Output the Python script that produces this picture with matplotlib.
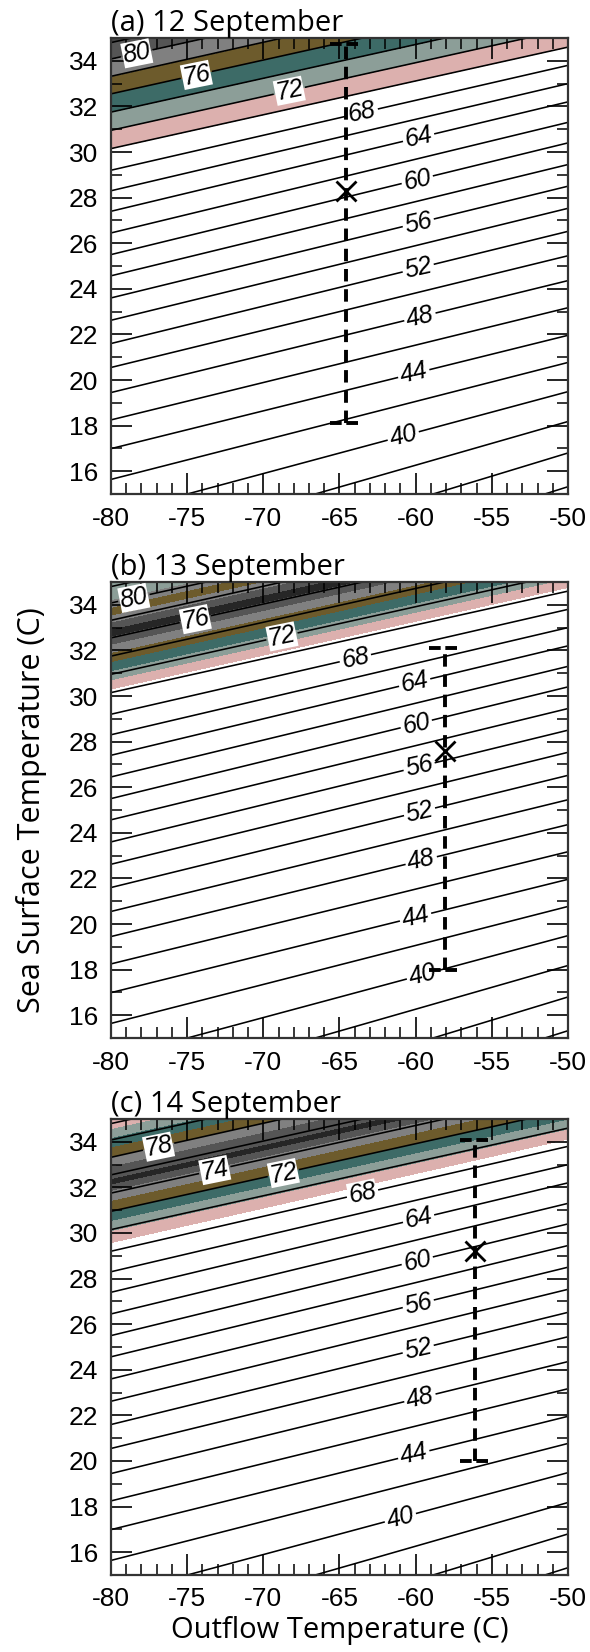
import numpy as np
import matplotlib
matplotlib.use("Agg")
import matplotlib.pyplot as plt
from matplotlib.ticker import MultipleLocator

# ---------------- data ----------------
# contour levels (m/s) and the SST (C) where each contour meets x=-80 and x=-50
line_levels = [30, 32, 34, 36, 38, 40, 42, 44, 46, 48, 50, 52, 54, 56, 58,
               60, 62, 64, 66, 68, 70, 72, 74, 76, 78, 80, 82, 84, 86]
sst_at_m80 = [5.6, 7.3, 9.0, 10.7, 12.43, 14.1, 15.64, 16.99, 18.25, 19.45,
              20.55, 21.6, 22.62, 23.6, 24.57, 25.5, 26.45, 27.4, 28.3, 29.2,
              30.15, 30.95, 31.75, 32.55, 33.32, 34.08, 34.8, 35.5, 36.2]
sst_at_m50 = [12.3, 13.8, 15.32, 16.8, 18.18, 19.49, 20.77, 21.96, 23.17, 24.36,
              25.45, 26.52, 27.53, 28.5, 29.45, 30.4, 31.3, 32.2, 33.0, 33.8,
              34.6, 35.4, 36.2, 37.0, 37.8, 38.5, 39.2, 39.9, 40.6]

panel_titles = ["(a) 12 September", "(b) 13 September", "(c) 14 September"]

# shaded bands (lower bound of each band in m/s) and their colours
PINK, GRGN, TEAL, OLIV = "#dcb0ae", "#8c9e98", "#3d6b67", "#6d5b2c"
GRAY, DGRY, BLCK = "#808080", "#555555", "#262626"
shade_bounds = [
    [70, 72, 74, 76, 78, 80, 82, 120],
    [70.4, 71.4, 72.4, 73.4, 74.4, 75.3, 76.2, 77.0, 77.8, 78.6, 79.5, 80.4, 120],
    [68.8, 69.9, 71.0, 72.1, 73.2, 74.3, 75.0, 75.6, 77.0, 78.1, 79.2, 80.3, 81.4, 120],
]
shade_colors = [
    [PINK, GRGN, TEAL, OLIV, GRAY, DGRY, "#444444"],
    [PINK, GRGN, TEAL, OLIV, GRAY, DGRY, BLCK, DGRY, GRAY, OLIV, GRAY, GRGN],
    [PINK, GRGN, TEAL, OLIV, GRAY, DGRY, BLCK, DGRY, GRAY, OLIV, TEAL, GRGN, PINK],
]

# observed range (dashed bar) and mean (X) for each day
bar_x = [-64.6, -58.1, -56.1]
bar_low = [18.1, 18.0, 20.0]
bar_high = [34.75, 32.1, 34.1]
bar_mark = [28.3, 27.6, 29.2]

# which contours carry a label, and where the labels sit (data coords)
label_sets = [
    [40, 44, 48, 52, 56, 60, 64, 68, 72, 76, 80],
    [40, 44, 48, 52, 56, 60, 64, 68, 72, 76, 80],
    [40, 44, 48, 52, 56, 60, 64, 68, 72, 74, 78],
]
label_spots = [
    [(-60.8, 17.5), (-60.1, 20.2), (-59.7, 22.7), (-59.8, 24.8), (-59.8, 26.8),
     (-59.9, 28.8), (-59.8, 30.6), (-63.5, 31.7), (-68.3, 32.7), (-74.4, 33.4),
     (-78.3, 34.3)],
    [(-59.6, 17.9), (-60.1, 20.6), (-59.7, 23.0), (-59.8, 25.1), (-59.8, 27.0),
     (-60.0, 28.9), (-60.1, 30.7), (-64.0, 31.8), (-68.8, 32.7), (-74.5, 33.5),
     (-78.5, 34.3)],
    [(-61.0, 17.5), (-60.1, 20.2), (-59.7, 22.7), (-59.8, 24.8), (-59.8, 26.8),
     (-59.9, 28.8), (-59.8, 30.6), (-63.5, 31.77), (-68.7, 32.68), (-73.2, 32.8),
     (-76.9, 33.86)],
]

# ---------------- build the field from the contour positions ----------------
xs = np.linspace(-80, -50, 241)
ys = np.linspace(14.0, 36.0, 881)
lv = np.array(line_levels, float)
sl = np.array(sst_at_m80)
sr = np.array(sst_at_m50)
V = np.empty((ys.size, xs.size))
for i, x in enumerate(xs):
    t = (x + 80.0) / 30.0
    V[:, i] = np.interp(ys, sl + (sr - sl) * t, lv)
X, Y = np.meshgrid(xs, ys)

# ---------------- figure ----------------
plt.rcParams["font.family"] = ["Liberation Sans", "DejaVu Sans"]
fig = plt.figure(figsize=(5.90, 16.52), dpi=100)
W, H = 590.0, 1652.0
left, right = 111, 568
tops = [38, 582, 1119]
ph = 456
TITLE_FONT = ["Open Sans", "DejaVu Sans"]

for k in range(3):
    top = tops[k]
    ax = fig.add_axes([left / W, 1 - (top + ph) / H, (right - left) / W, ph / H])
    ax.contourf(X, Y, V, levels=shade_bounds[k], colors=shade_colors[k])
    plain = [v for v in line_levels if v not in label_sets[k]]
    ax.contour(X, Y, V, levels=plain, colors="k", linewidths=1.15)
    cs = ax.contour(X, Y, V, levels=label_sets[k], colors="k", linewidths=1.15)
    lbls = ax.clabel(cs, manual=label_spots[k], inline=True,
                     fmt="%d", fontsize=18, inline_spacing=2)
    for t in lbls:
        t.set_bbox(dict(facecolor="white", edgecolor="none", pad=0.3))
        t.set_fontstyle("italic")

    xb = bar_x[k]
    dash = (0, (3.2, 2.0))
    ax.plot([xb, xb], [bar_low[k], bar_high[k]], color="k", lw=2.8, ls=dash,
            dash_capstyle="butt", zorder=5)
    for yy in (bar_low[k], bar_high[k]):
        ax.plot([xb - 1.0, xb + 1.0], [yy, yy], color="k", lw=2.8, ls=(0, (3.0, 1.2)),
                dash_capstyle="butt", zorder=5)
    ax.plot([xb], [bar_mark[k]], marker="x", ms=14, mew=2.0, color="k", zorder=6)

    ax.set_xlim(-80, -50)
    ax.set_ylim(15, 35)
    ax.set_xticks([-80, -75, -70, -65, -60, -55, -50])
    ax.set_xticklabels(["-80", "-75", "-70", "-65", "-60", "-55", "-50"])
    ax.set_yticks([16, 18, 20, 22, 24, 26, 28, 30, 32, 34])
    ax.xaxis.set_minor_locator(MultipleLocator(1))
    ax.yaxis.set_minor_locator(MultipleLocator(1))
    ax.tick_params(which="major", direction="in", length=15, width=1.2,
                   top=True, right=True, labelsize=19, pad=9)
    ax.tick_params(which="minor", direction="in", length=8, width=1.1,
                   top=True, right=True)
    for s in ax.spines.values():
        s.set_linewidth(1.6)
        s.set_color("#333333")
    ax.set_title(panel_titles[k], loc="left", fontsize=21, pad=0,
                 family=TITLE_FONT)
    if k == 1:
        ax.set_ylabel("Sea Surface Temperature (C)", fontsize=22, family=TITLE_FONT,
                      labelpad=16)
    if k == 2:
        ax.set_xlabel("Outflow Temperature (C)", fontsize=21, family=TITLE_FONT,
                      labelpad=3)

fig.savefig("out.png", dpi=100)
